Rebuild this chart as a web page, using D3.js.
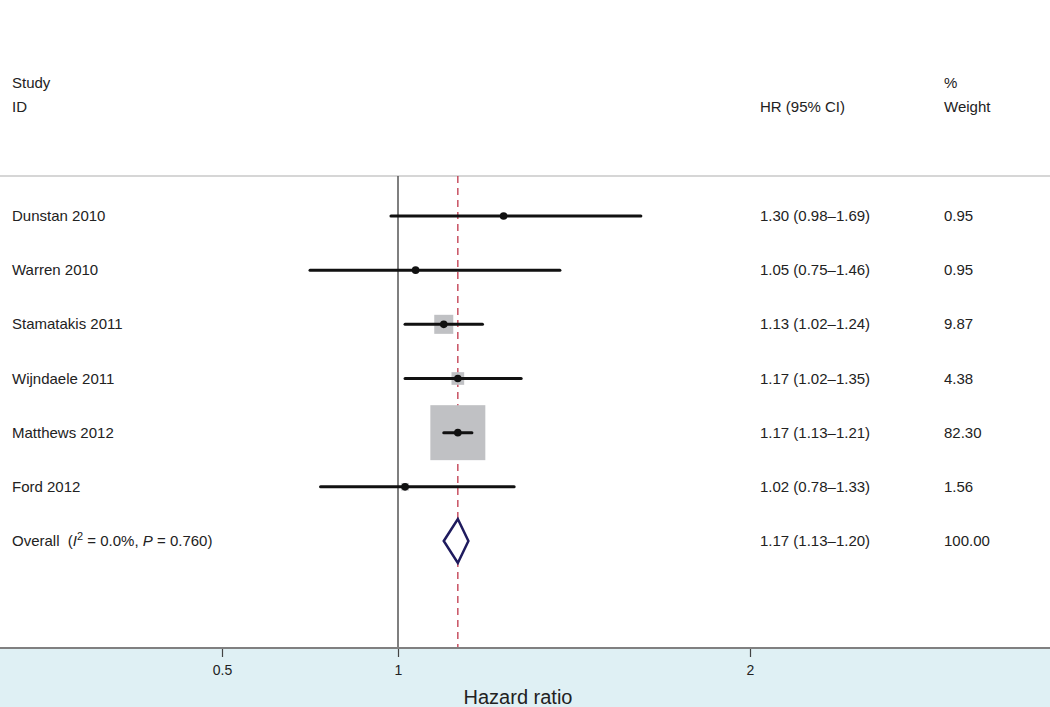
<!DOCTYPE html>
<html><head><meta charset="utf-8">
<script src="https://cdn.jsdelivr.net/npm/d3@7"></script>
<style>body{margin:0;background:#fff}svg{display:block}text{font-family:"Liberation Sans",Arial,sans-serif}</style>
</head><body>
<script>
const studies = ["Dunstan 2010","Warren 2010","Stamatakis 2011","Wijndaele 2011","Matthews 2012","Ford 2012"];
const hr = [1.30,1.05,1.13,1.17,1.17,1.02];
const lower = [0.98,0.75,1.02,1.02,1.13,0.78];
const upper = [1.69,1.46,1.24,1.35,1.21,1.33];
const weights = [0.95,0.95,9.87,4.38,82.30,1.56];
const overall = {hr:1.17, lo:1.13, hi:1.20, weight:100.00, i2:"0.0%", p:"0.760"};
const ticks = [0.5,1,2];

const W=1050,H=707;
const svg=d3.select("body").append("svg").attr("width",W).attr("height",H);
const x=d3.scaleLinear().domain([0.5,2]).range([222,750]);
const rows=d3.range(studies.length+1);
const y=d3.scalePoint().domain(rows).range([216,541]);
const topY=176, axisY=648;

// bottom band
svg.append("rect").attr("x",0).attr("y",axisY).attr("width",W).attr("height",H-axisY).attr("fill","#dff0f4");
// top rule
svg.append("line").attr("x1",0).attr("x2",W).attr("y1",topY).attr("y2",topY).attr("stroke","#c8c8c8").attr("stroke-width",1.5);

// headers
const hdr=svg.append("g").attr("font-size",15).attr("fill","#222");
hdr.append("text").attr("x",12).attr("y",88).text("Study");
hdr.append("text").attr("x",12).attr("y",112).text("ID");
hdr.append("text").attr("x",760).attr("y",112).text("HR (95% CI)");
hdr.append("text").attr("x",944).attr("y",88).text("%");
hdr.append("text").attr("x",944).attr("y",112).text("Weight");

// null line
svg.append("line").attr("x1",x(1)).attr("x2",x(1)).attr("y1",topY).attr("y2",axisY).attr("stroke","#555").attr("stroke-width",1.5);
// overall dashed line
svg.append("line").attr("x1",x(overall.hr)).attr("x2",x(overall.hr)).attr("y1",topY).attr("y2",axisY)
  .attr("stroke","#c0364a").attr("stroke-width",1.3).attr("stroke-dasharray","7,5");

const boxScale=6.06;
studies.forEach((s,i)=>{
  const cy=y(i), side=boxScale*Math.sqrt(weights[i]);
  svg.append("rect").attr("x",x(hr[i])-side/2).attr("y",cy-side/2).attr("width",side).attr("height",side).attr("fill","#c0c1c4");
  svg.append("line").attr("x1",x(lower[i])).attr("x2",x(upper[i])).attr("y1",cy).attr("y2",cy).attr("stroke","#111").attr("stroke-width",3).attr("stroke-linecap","round");
  svg.append("circle").attr("cx",x(hr[i])).attr("cy",cy).attr("r",3.8).attr("fill","#111");
  const t=svg.append("g").attr("font-size",15).attr("fill","#222");
  t.append("text").attr("x",12).attr("y",cy+5).text(s);
  t.append("text").attr("x",760).attr("y",cy+5).text(`${hr[i].toFixed(2)} (${lower[i].toFixed(2)}\u2013${upper[i].toFixed(2)})`);
  t.append("text").attr("x",944).attr("y",cy+5).text(weights[i].toFixed(2));
});

// overall
const oy=y(studies.length), dh=22;
svg.append("path").attr("d",`M${x(overall.lo)},${oy}L${x(overall.hr)},${oy-dh}L${x(overall.hi)},${oy}L${x(overall.hr)},${oy+dh}Z`)
  .attr("fill","#fff").attr("stroke","#1f1b5e").attr("stroke-width",2.5).attr("stroke-linejoin","miter");
const ot=svg.append("text").attr("x",12).attr("y",oy+5).attr("font-size",15).attr("fill","#222");
ot.append("tspan").text("Overall\u00a0\u00a0(");
ot.append("tspan").attr("font-style","italic").text("I");
ot.append("tspan").attr("font-size",11).attr("dy",-6).text("2");
ot.append("tspan").attr("dy",6).text(`\u00a0= ${overall.i2}, `);
ot.append("tspan").attr("font-style","italic").text("P");
ot.append("tspan").text(`\u00a0= ${overall.p})`);
const ott=svg.append("g").attr("font-size",15).attr("fill","#222");
ott.append("text").attr("x",760).attr("y",oy+5).text(`${overall.hr.toFixed(2)} (${overall.lo.toFixed(2)}\u2013${overall.hi.toFixed(2)})`);
ott.append("text").attr("x",944).attr("y",oy+5).text(overall.weight.toFixed(2));

// axis
const ax=svg.append("g").attr("transform",`translate(0,${axisY})`)
  .call(d3.axisBottom(x).tickValues(ticks).tickFormat(d3.format("")).tickSize(9).tickPadding(8));
ax.select(".domain").remove();
ax.selectAll(".tick line").attr("stroke","#444").attr("stroke-width",1.2);
ax.selectAll(".tick text").attr("font-size",14).attr("fill","#222").attr("font-family","'Liberation Sans Narrow','Liberation Sans',Arial,sans-serif");
svg.append("line").attr("x1",0).attr("x2",W).attr("y1",axisY).attr("y2",axisY).attr("stroke","#808080").attr("stroke-width",2);
svg.append("text").attr("x",518).attr("y",704).attr("text-anchor","middle").attr("font-size",20).attr("fill","#222")
  .attr("font-family","'Liberation Sans Narrow','Liberation Sans',Arial,sans-serif").text("Hazard ratio");
</script>
</body></html>
